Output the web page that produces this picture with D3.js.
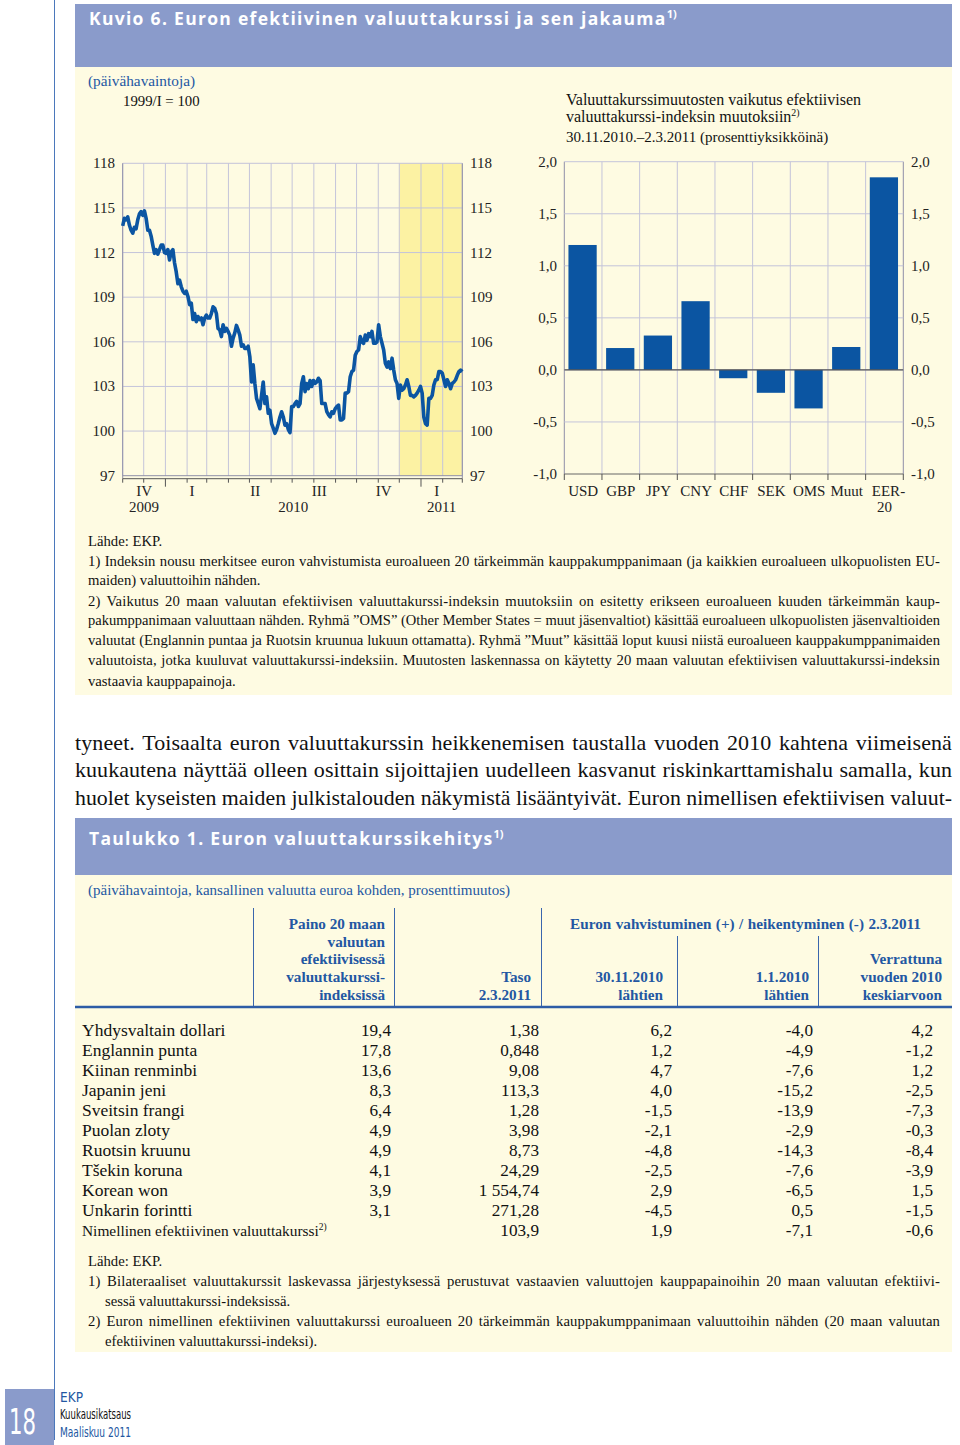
<!DOCTYPE html>
<html>
<head>
<meta charset="utf-8">
<script src="https://cdn.jsdelivr.net/npm/d3@7/dist/d3.min.js"></script>
<style>
  html, body { margin: 0; padding: 0; background: #fff; }
  svg { display: block; }
</style>
</head>
<body>
<div id="page"></div>
<script>
// --- data ---------------------------------------------------------------

// euron efektiivinen valuuttakurssi (EER-20), 1999/I = 100, marraskuu 2009 - 2.3.2011
const eerValues = [
  113.8, 114.3, 114.2, 114.4, 113.85, 113.5, 113.3, 113.7, 113.6, 114.2,
  114.6, 114.75, 114.5, 114.8, 114.3, 113.5, 113.5, 113.1, 112.5, 111.95,
  112.2, 111.9, 112.2, 112.5, 112.5, 112.0, 111.95, 112.2, 111.5, 112.05,
  112.2, 111.3, 110.7, 109.9, 110.15, 109.7, 109.4, 109.25, 109.4, 109.05,
  108.5, 108.6, 107.5, 107.9, 107.35, 107.7, 107.5, 107.6, 107.15, 107.6,
  107.8, 107.6, 107.6, 107.9, 108.35, 108.25, 107.9, 106.9, 106.8, 106.35,
  107.15, 106.7, 106.9, 106.7, 106.45, 105.7, 106.25, 106.6, 107.1, 106.8,
  106.45, 105.7, 105.8, 105.55, 105.55, 105.7, 105.0, 103.3, 104.45, 103.2,
  102.2, 101.85, 101.5, 102.4, 103.3, 101.85, 102.3, 101.2, 101.4, 100.5,
  100.2, 99.85, 100.1, 100.5, 100.95, 101.3, 100.95, 100.4, 100.5, 100.1,
  99.9, 101.65, 101.65, 101.85, 102.0, 101.65, 101.85, 103.2, 103.65, 102.65,
  103.2, 102.85, 103.4, 103.0, 103.4, 103.2, 103.3, 103.55, 103.4, 101.85,
  101.85, 101.85, 101.3, 101.1, 100.95, 101.3, 101.2, 101.5, 101.65, 101.75,
  100.75, 100.75, 100.85, 102.55, 102.55, 102.65, 103.65, 104.0, 104.1, 105.1,
  105.35, 105.45, 106.35, 106.0, 105.9, 106.45, 106.1, 106.55, 106.35, 106.7,
  105.9, 105.9, 106.0, 107.15, 106.35, 105.9, 105.45, 104.55, 104.3, 104.65,
  104.2, 104.9, 104.1, 103.45, 103.2, 102.2, 103.1, 102.75, 102.85, 103.1,
  103.45, 103.0, 102.4, 102.4, 102.3, 102.4, 102.55, 102.75, 103.0, 102.55,
  100.95, 100.5, 100.4, 102.2, 102.2, 102.4, 103.1, 103.45, 103.45, 104.0,
  104.0, 103.9, 103.45, 103.0, 103.45, 103.2, 102.85, 103.2, 103.3, 103.45,
  103.75, 104.0, 104.1, 104.0
];
const eerStart = new Date(2009, 10, 1);
const eerEnd = new Date(2011, 2, 1);
const shadeStart = new Date(2010, 11, 1);
const eerTicks = [97, 100, 103, 106, 109, 112, 115, 118];

const quarterLabels = [
  { label: 'IV', from: new Date(2009, 10, 1), to: new Date(2010, 0, 1) },
  { label: 'I', from: new Date(2010, 0, 1), to: new Date(2010, 3, 1) },
  { label: 'II', from: new Date(2010, 3, 1), to: new Date(2010, 6, 1) },
  { label: 'III', from: new Date(2010, 6, 1), to: new Date(2010, 9, 1) },
  { label: 'IV', from: new Date(2010, 9, 1), to: new Date(2011, 0, 1) },
  { label: 'I', from: new Date(2011, 0, 1), to: new Date(2011, 2, 1) }
];
const yearLabels = [
  { label: '2009', from: new Date(2009, 10, 1), to: new Date(2010, 0, 1) },
  { label: '2010', from: new Date(2010, 0, 1), to: new Date(2011, 0, 1) },
  { label: '2011', from: new Date(2011, 0, 1), to: new Date(2011, 2, 1) }
];

// valuuttakurssimuutosten vaikutus, prosenttiyksikköä
const barCategories = ['USD', 'GBP', 'JPY', 'CNY', 'CHF', 'SEK', 'OMS', 'Muut', 'EER-20'];
const barValues = [1.20, 0.21, 0.33, 0.66, -0.08, -0.22, -0.37, 0.22, 1.85];
const barTicks = [-1.0, -0.5, 0.0, 0.5, 1.0, 1.5, 2.0];

// taulukko 1
const currencies = [
  'Yhdysvaltain dollari', 'Englannin punta', 'Kiinan renminbi', 'Japanin jeni',
  'Sveitsin frangi', 'Puolan zloty', 'Ruotsin kruunu', 'Tšekin koruna',
  'Korean won', 'Unkarin forintti', 'Nimellinen efektiivinen valuuttakurssi'
];
const weights = ['19,4', '17,8', '13,6', '8,3', '6,4', '4,9', '4,9', '4,1', '3,9', '3,1', ''];
const levels = ['1,38', '0,848', '9,08', '113,3', '1,28', '3,98', '8,73', '24,29', '1 554,74', '271,28', '103,9'];
const since301110 = ['6,2', '1,2', '4,7', '4,0', '-1,5', '-2,1', '-4,8', '-2,5', '2,9', '-4,5', '1,9'];
const since010110 = ['-4,0', '-4,9', '-7,6', '-15,2', '-13,9', '-2,9', '-14,3', '-7,6', '-6,5', '0,5', '-7,1'];
const vsAvg2010 = ['4,2', '-1,2', '1,2', '-2,5', '-7,3', '-0,3', '-8,4', '-3,9', '1,5', '-1,5', '-0,6'];

// --- styles -----------------------------------------------------------------
const W = 960, H = 1445;
const SERIF = "'Liberation Serif', 'Times New Roman', serif";
const SANS = "'Open Sans', 'DejaVu Sans', sans-serif";
const COND = "'DejaVu Sans Condensed', 'DejaVu Sans', sans-serif";
const HEAD = '#8a9bcb';
const PANEL = '#fefbe2';
const BLUE = '#0b55a2';
const TXTBLUE = '#2357a2';
const GRID = '#c4c4da';
const AXIS = '#8f8fa8';
const SHADE = '#fcf2a3';

const svg = d3.select('#page').append('svg')
  .attr('width', W).attr('height', H)
  .style('font-family', SERIF);

// one line of text, optionally justified to a width
function line(g, str, x, y, o = {}) {
  const size = o.size || 14;
  const t = g.append('text')
    .attr('x', x).attr('y', y)
    .attr('font-size', size)
    .attr('font-family', o.family || SERIF)
    .attr('font-weight', o.weight || 'normal')
    .attr('fill', o.fill || '#111')
    .attr('text-anchor', o.anchor || 'start')
    .text(str);
  if (o.sup) {
    t.append('tspan').attr('font-size', size * 0.62).attr('dy', -size * 0.4).text(o.sup);
  }
  if (o.width) {
    const natural = t.node().getComputedTextLength();
    const spaces = (str.match(/ /g) || []).length;
    if (natural < o.width && spaces > 0) {
      // a little of the slack into letter spacing, the rest between words
      const ls = Math.min(0.35, (o.width - natural) * 0.35 / str.length);
      t.attr('letter-spacing', ls);
      const n2 = t.node().getComputedTextLength();
      t.attr('word-spacing', Math.max(0, (o.width - n2) / spaces));
    } else {
      t.attr('textLength', o.width).attr('lengthAdjust', 'spacingAndGlyphs');
    }
  }
  return t;
}

// --- page frame -------------------------------------------------------------
svg.append('line').attr('x1', 54.5).attr('x2', 54.5).attr('y1', 0).attr('y2', 1440)
  .attr('stroke', '#4b78bb').attr('stroke-width', 1);

svg.append('rect').attr('x', 75).attr('y', 4).attr('width', 877).attr('height', 63).attr('fill', HEAD);
svg.append('rect').attr('x', 75).attr('y', 67).attr('width', 877).attr('height', 628).attr('fill', PANEL);
svg.append('rect').attr('x', 75).attr('y', 818).attr('width', 877).attr('height', 57).attr('fill', HEAD);
svg.append('rect').attr('x', 75).attr('y', 875).attr('width', 877).attr('height', 477).attr('fill', PANEL);

const t1 = svg.append('text').attr('x', 89).attr('y', 25)
  .attr('font-family', SANS).attr('font-weight', 'bold').attr('font-size', 17.5)
  .attr('fill', '#fff').attr('letter-spacing', 1.3)
  .text('Kuvio 6. Euron efektiivinen valuuttakurssi ja sen jakauma');
t1.append('tspan').attr('font-size', 11).attr('dy', -7).attr('letter-spacing', 0).text('1)');

const t2 = svg.append('text').attr('x', 89).attr('y', 845)
  .attr('font-family', SANS).attr('font-weight', 'bold').attr('font-size', 17.5)
  .attr('fill', '#fff').attr('letter-spacing', 1.3)
  .text('Taulukko 1. Euron valuuttakurssikehitys');
t2.append('tspan').attr('font-size', 11).attr('dy', -7).attr('letter-spacing', 0).text('1)');

// --- line chart ---------------------------------------------------------------
const lc = svg.append('g');
const lx = d3.scaleTime().domain([eerStart, eerEnd]).range([122.7, 462.3]);
const ly = d3.scaleLinear().domain([97, 118]).range([475.7, 163.3]);
const step = (eerEnd - eerStart) / (eerValues.length - 1);
const eerData = eerValues.map((v, i) => ({ date: new Date(+eerStart + i * step), v }));

line(lc, '(päivähavaintoja)', 88, 86, { size: 15.3, fill: TXTBLUE });
line(lc, '1999/I = 100', 123, 106, { size: 14.8 });

lc.append('rect')
  .attr('x', lx(shadeStart)).attr('y', ly(118))
  .attr('width', lx(eerEnd) - lx(shadeStart)).attr('height', ly(97) - ly(118))
  .attr('fill', SHADE);

const months = d3.timeMonth.range(eerStart, d3.timeDay.offset(eerEnd, 1));
lc.append('g').selectAll('line').data(months).join('line')
  .attr('x1', d => lx(d)).attr('x2', d => lx(d))
  .attr('y1', ly(118)).attr('y2', ly(97))
  .attr('stroke', GRID).attr('stroke-width', 1);

lc.append('g').selectAll('line').data(eerTicks).join('line')
  .attr('x1', lx.range()[0]).attr('x2', lx.range()[1])
  .attr('y1', d => ly(d)).attr('y2', d => ly(d))
  .attr('stroke', d => d === 97 ? AXIS : GRID).attr('stroke-width', 1);

lc.append('g').selectAll('line').data(lx.range()).join('line')
  .attr('x1', d => d).attr('x2', d => d)
  .attr('y1', ly(118)).attr('y2', ly(97) + 3)
  .attr('stroke', AXIS).attr('stroke-width', 1);

// tick marks under the axis
const lb = ly(97) + 3;
lc.append('line').attr('x1', lx.range()[0]).attr('x2', lx.range()[1])
  .attr('y1', lb).attr('y2', lb).attr('stroke', '#555').attr('stroke-width', 1);
lc.append('g').selectAll('line').data(months).join('line')
  .attr('x1', d => lx(d)).attr('x2', d => lx(d))
  .attr('y1', lb).attr('y2', d => lb + (d.getMonth() === 0 ? 8 : 4))
  .attr('stroke', '#555').attr('stroke-width', 1);

lc.append('g').selectAll('text').data(eerTicks).join('text')
  .attr('x', 115).attr('y', d => ly(d) + 5)
  .attr('text-anchor', 'end').attr('font-size', 15).attr('fill', '#222')
  .text(d => d);
lc.append('g').selectAll('text').data(eerTicks).join('text')
  .attr('x', 470).attr('y', d => ly(d) + 5)
  .attr('font-size', 15).attr('fill', '#222')
  .text(d => d);

const mid = d => lx(new Date((+d.from + +d.to) / 2));
lc.append('g').selectAll('text').data(quarterLabels).join('text')
  .attr('x', (d, i) => i === 0 ? mid(d) : mid(d) - 5).attr('y', 496)
  .attr('text-anchor', 'middle').attr('font-size', 15).attr('fill', '#222')
  .text(d => d.label);
lc.append('g').selectAll('text').data(yearLabels).join('text')
  .attr('x', mid).attr('y', 512)
  .attr('text-anchor', 'middle').attr('font-size', 15).attr('fill', '#222')
  .text(d => d.label);

lc.append('path').datum(eerData)
  .attr('d', d3.line().x(d => lx(d.date)).y(d => ly(d.v)))
  .attr('fill', 'none').attr('stroke', BLUE).attr('stroke-width', 3.6)
  .attr('stroke-linejoin', 'round');

// --- bar chart --------------------------------------------------------------
const bc = svg.append('g');
const bx = d3.scaleBand().domain(barCategories).range([564.3, 903.3]).padding(0);
const by = d3.scaleLinear().domain([-1, 2]).range([474, 161.7]);
const bw = bx.bandwidth();

line(bc, 'Valuuttakurssimuutosten vaikutus efektiivisen', 566, 105, { size: 16 });
line(bc, 'valuuttakurssi-indeksin muutoksiin', 566, 122, { size: 16, sup: '2)' });
line(bc, '30.11.2010.–2.3.2011 (prosenttiyksikköinä)', 566, 142, { size: 15 });

const bounds = barCategories.map(c => bx(c)).concat([bx.range()[1]]);
bc.append('g').selectAll('line').data(bounds).join('line')
  .attr('x1', d => d).attr('x2', d => d)
  .attr('y1', by(2)).attr('y2', by(-1))
  .attr('stroke', (d, i) => (i === 0 || i === bounds.length - 1) ? AXIS : GRID).attr('stroke-width', 1);
bc.append('g').selectAll('line').data(barTicks).join('line')
  .attr('x1', bx.range()[0]).attr('x2', bx.range()[1])
  .attr('y1', d => by(d)).attr('y2', d => by(d))
  .attr('stroke', d => d === -1 ? '#666' : GRID).attr('stroke-width', 1);
bc.append('g').selectAll('line').data(bounds).join('line')
  .attr('x1', d => d).attr('x2', d => d)
  .attr('y1', by(-1)).attr('y2', by(-1) + 6)
  .attr('stroke', '#555').attr('stroke-width', 1);

bc.append('g').selectAll('rect').data(barValues).join('rect')
  .attr('x', (d, i) => bx(barCategories[i]) + bw * 0.11)
  .attr('width', bw * 0.75)
  .attr('y', d => by(Math.max(0, d)))
  .attr('height', d => Math.abs(by(d) - by(0)))
  .attr('fill', BLUE);

bc.append('line').attr('x1', bx.range()[0]).attr('x2', bx.range()[1])
  .attr('y1', by(0)).attr('y2', by(0)).attr('stroke', '#555').attr('stroke-width', 1.2);

const fmt = d => d3.format('.1f')(d).replace('.', ',').replace('−', '-');
bc.append('g').selectAll('text').data(barTicks).join('text')
  .attr('x', 557).attr('y', d => by(d) + 5)
  .attr('text-anchor', 'end').attr('font-size', 15).attr('fill', '#222')
  .text(fmt);
bc.append('g').selectAll('text').data(barTicks).join('text')
  .attr('x', 911).attr('y', d => by(d) + 5)
  .attr('font-size', 15).attr('fill', '#222')
  .text(fmt);

bc.append('g').selectAll('text').data(barCategories).join('text')
  .attr('x', d => bx(d) + bw / 2 + (d === 'EER-20' ? 4 : 0)).attr('y', 496)
  .attr('text-anchor', 'middle').attr('font-size', 15).attr('fill', '#222')
  .each(function (d) {
    const parts = d.split('-');
    const el = d3.select(this);
    if (parts.length === 1) { el.text(d); return; }
    el.append('tspan').text(parts[0] + '-');
    el.append('tspan').attr('x', bx(d) + bw / 2).attr('dy', 15.5).text(parts[1]);
  });

// --- notes under the figure -----------------------------------------------------
const notes1 = [
  { t: 'Lähde: EKP.' },
  { t: '1) Indeksin nousu merkitsee euron vahvistumista euroalueen 20 tärkeimmän kauppakumppanimaan (ja kaikkien euroalueen ulkopuolisten EU-', j: true },
  { t: 'maiden) valuuttoihin nähden.' },
  { t: '2) Vaikutus 20 maan valuutan efektiivisen valuuttakurssi-indeksin muutoksiin on esitetty erikseen euroalueen kuuden tärkeimmän kaup-', j: true },
  { t: 'pakumppanimaan valuuttaan nähden. Ryhmä ”OMS” (Other Member States = muut jäsenvaltiot) käsittää euroalueen ulkopuolisten jäsenvaltioiden', j: true },
  { t: 'valuutat (Englannin puntaa ja Ruotsin kruunua lukuun ottamatta). Ryhmä ”Muut” käsittää loput kuusi niistä euroalueen kauppakumppanimaiden', j: true },
  { t: 'valuutoista, jotka kuuluvat valuuttakurssi-indeksiin. Muutosten laskennassa on käytetty 20 maan valuutan efektiivisen valuuttakurssi-indeksin', j: true },
  { t: 'vastaavia kauppapainoja.' }
];
const notes1Y = [546, 566, 585, 606, 625, 645, 665, 686];
notes1.forEach((n, i) => line(svg, n.t, 88, notes1Y[i], { size: 14.7, width: n.j ? 852 : null }));

// --- body text -------------------------------------------------------------------
const body = [
  'tyneet. Toisaalta euron valuuttakurssin heikkenemisen taustalla vuoden 2010 kahtena viimeisenä',
  'kuukautena näyttää olleen osittain sijoittajien uudelleen kasvanut riskinkarttamishalu samalla, kun',
  'huolet kyseisten maiden julkistalouden näkymistä lisääntyivät. Euron nimellisen efektiivisen valuut-'
];
const bodyY = [750, 777, 805];
body.forEach((s, i) => line(svg, s, 75, bodyY[i], { size: 22, width: 877 }));

// --- table -------------------------------------------------------------------------
const tb = svg.append('g');
line(tb, '(päivähavaintoja, kansallinen valuutta euroa kohden, prosenttimuutos)', 88, 895, { size: 15, fill: TXTBLUE });

const hdr = { size: 15.2, weight: 'bold', fill: TXTBLUE, anchor: 'end' };
const headCols = [
  { x: 385, lines: ['Paino 20 maan', 'valuutan', 'efektiivisessä', 'valuuttakurssi-', 'indeksissä'] },
  { x: 531, lines: ['Taso', '2.3.2011'] },
  { x: 663, lines: ['30.11.2010', 'lähtien'] },
  { x: 809, lines: ['1.1.2010', 'lähtien'] },
  { x: 942, lines: ['Verrattuna', 'vuoden 2010', 'keskiarvoon'] }
];
headCols.forEach(c => {
  const n = c.lines.length;
  c.lines.forEach((s, i) => line(tb, s, c.x, 1000 - (n - 1 - i) * 17.8, hdr));
});
line(tb, 'Euron vahvistuminen (+) / heikentyminen (-) 2.3.2011', 570, 929, { size: 15.2, weight: 'bold', fill: TXTBLUE, width: 351 });

const vlines = [
  { x: 253.5, y1: 908 }, { x: 394.5, y1: 908 }, { x: 541.5, y1: 908 },
  { x: 677.5, y1: 936 }, { x: 818.5, y1: 936 }
];
tb.append('g').selectAll('line').data(vlines).join('line')
  .attr('x1', d => d.x).attr('x2', d => d.x)
  .attr('y1', d => d.y1).attr('y2', 1006)
  .attr('stroke', '#3a66ad').attr('stroke-width', 1);
tb.append('line').attr('x1', 75).attr('x2', 952).attr('y1', 1007).attr('y2', 1007)
  .attr('stroke', '#2d5ca6').attr('stroke-width', 2.5);

const rowY = d3.scaleLinear().domain([0, currencies.length - 1]).range([1036, 1236]);
currencies.forEach((c, i) => {
  const last = i === currencies.length - 1;
  line(tb, c, 82, rowY(i), { size: last ? 15.4 : 17.5, sup: last ? '2)' : null });
});
const columns = [weights, levels, since301110, since010110, vsAvg2010];
const colRight = [391, 539, 672, 813, 933];
columns.forEach((col, k) => {
  tb.append('g').selectAll('text').data(col).join('text')
    .attr('x', colRight[k]).attr('y', (d, i) => rowY(i))
    .attr('text-anchor', 'end').attr('font-size', 17.2).attr('fill', '#111')
    .text(d => d);
});

const notes2 = [
  { t: 'Lähde: EKP.', x: 88 },
  { t: '1) Bilateraaliset valuuttakurssit laskevassa järjestyksessä perustuvat vastaavien valuuttojen kauppapainoihin 20 maan valuutan efektiivi-', x: 88, w: 852 },
  { t: 'sessä valuuttakurssi-indeksissä.', x: 105 },
  { t: '2) Euron nimellinen efektiivinen valuuttakurssi euroalueen 20 tärkeimmän kauppakumppanimaan valuuttoihin nähden (20 maan valuutan', x: 88, w: 852 },
  { t: 'efektiivinen valuuttakurssi-indeksi).', x: 105 }
];
const notes2Y = [1266, 1286, 1306, 1326, 1346];
notes2.forEach((n, i) => line(svg, n.t, n.x, notes2Y[i], { size: 14.7, width: n.w || null }));

// --- page footer ---------------------------------------------------------------------
svg.append('rect').attr('x', 5).attr('y', 1389).attr('width', 49).attr('height', 56).attr('fill', HEAD);
svg.append('text').attr('x', 9).attr('y', 1434)
  .attr('font-family', COND).attr('font-size', 36).attr('fill', '#fff')
  .attr('textLength', 27).attr('lengthAdjust', 'spacingAndGlyphs').text('18');
line(svg, 'EKP', 60, 1402, { size: 13.5, family: COND, fill: TXTBLUE });
line(svg, 'Kuukausikatsaus', 60, 1419, { size: 13.5, family: COND, fill: '#111', width: 71 });
line(svg, 'Maaliskuu 2011', 60, 1437, { size: 13.5, family: COND, fill: TXTBLUE, width: 71 });
</script>
</body>
</html>
